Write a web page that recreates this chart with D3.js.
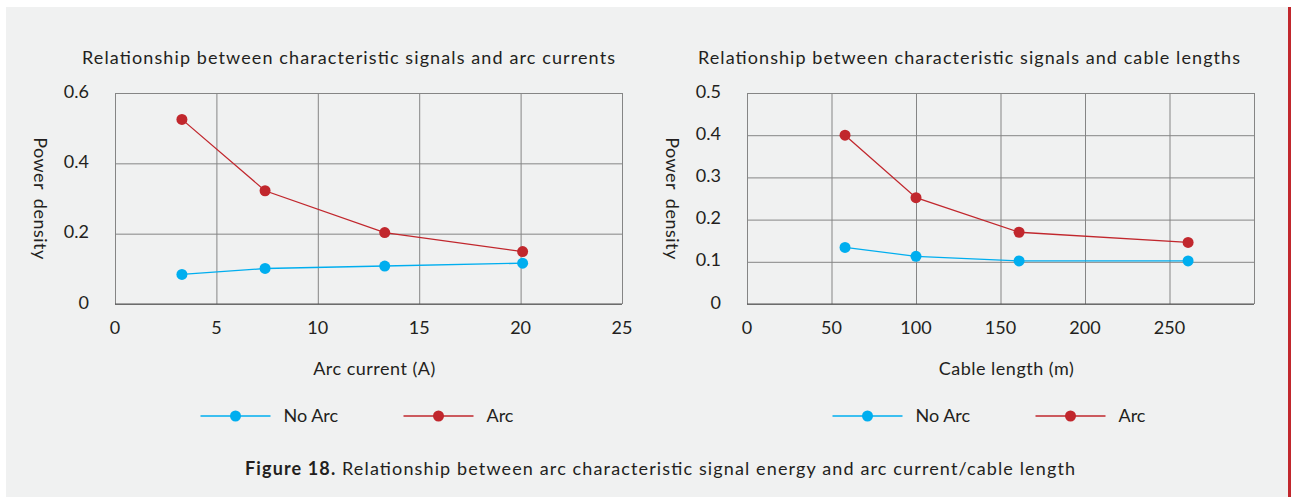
<!DOCTYPE html>
<html lang="en">
<head>
    <meta charset="UTF-8">
    <script src="https://d3js.org/d3.v7.min.js"></script>
    <title>Figure 18</title>
    <style>
    body { margin: 0; background: #fff; }
    text { font-family: Lato, "Open Sans", sans-serif; fill: #231f20; }
    .grid line { stroke: #858585; stroke-width: 1; }
    </style>
</head>
<body>
    <svg id="fig" width="1291" height="497"></svg>
    <script>
        // Data
        const seriesNames = ['No Arc', 'Arc'];
        const seriesColors = ['#00aeef', '#c1272d'];

        const currentX = [3.3, 7.4, 13.3, 20.1];
        const currentNoArc = [0.084, 0.101, 0.108, 0.116];
        const currentArc = [0.525, 0.322, 0.203, 0.149];
        const currentXTicks = [0, 5, 10, 15, 20, 25];
        const currentYTicks = [0, 0.2, 0.4, 0.6];

        const cableX = [58, 100, 161, 261];
        const cableNoArc = [0.134, 0.113, 0.102, 0.102];
        const cableArc = [0.400, 0.252, 0.170, 0.146];
        const cableXTicks = [0, 50, 100, 150, 200, 250];
        const cableXGrid = [0, 50, 100, 150, 200, 250, 300];
        const cableYTicks = [0, 0.1, 0.2, 0.3, 0.4, 0.5];

        const svg = d3.select('svg#fig');

        // page background and red edge
        svg.append('rect').attr('x', 6).attr('y', 7).attr('width', 1285).attr('height', 490).attr('fill', '#f0f1f1');
        svg.append('rect').attr('x', 1288).attr('y', 7).attr('width', 3).attr('height', 490).attr('fill', '#c1272d');

        function drawPanel(cfg) {
            const x = d3.scaleLinear().domain(cfg.xDomain).range([cfg.left, cfg.right]);
            const y = d3.scaleLinear().domain(cfg.yDomain).range([cfg.bottom, cfg.top]);
            const g = svg.append('g');
            const cx = (cfg.left + cfg.right) / 2;

            // title
            g.append('text')
                .attr('x', cfg.titleX).attr('y', 59)
                .attr('dominant-baseline', 'middle')
                .attr('textLength', cfg.titleLen).attr('lengthAdjust', 'spacing')
                .style('font-size', '18px')
                .text(cfg.title);

            // gridlines
            g.append('g').attr('class', 'grid')
                .attr('transform', `translate(0,${cfg.bottom})`)
                .call(d3.axisBottom(x).tickValues(cfg.xGrid).tickSize(-(cfg.bottom - cfg.top)).tickFormat(''))
                .call(s => s.select('.domain').remove());
            g.append('g').attr('class', 'grid')
                .attr('transform', `translate(${cfg.left},0)`)
                .call(d3.axisLeft(y).tickValues(cfg.yTicks).tickSize(-(cfg.right - cfg.left)).tickFormat(''))
                .call(s => s.select('.domain').remove());
            g.append('line')
                .attr('x1', cfg.left).attr('x2', cfg.right)
                .attr('y1', y(cfg.yDomain[0])).attr('y2', y(cfg.yDomain[0]))
                .attr('stroke', '#555').attr('stroke-width', 1.2);

            // tick labels
            g.selectAll('.xl').data(cfg.xTicks).enter().append('text')
                .attr('x', d => x(d)).attr('y', cfg.bottom + 25)
                .attr('text-anchor', 'middle').attr('dominant-baseline', 'middle')
                .style('font-size', '18px')
                .text(d => d);
            g.selectAll('.yl').data(cfg.yTicks).enter().append('text')
                .attr('x', cfg.left - 26).attr('y', d => y(d))
                .attr('text-anchor', 'end').attr('dominant-baseline', 'middle')
                .style('font-size', '18px')
                .text(d => d);

            // axis titles
            g.append('text')
                .attr('x', cx + 6).attr('y', cfg.bottom + 66)
                .attr('text-anchor', 'middle').attr('dominant-baseline', 'middle')
                .style('font-size', '18px')
                .style('letter-spacing', '0.5px')
                .text(cfg.xLabel);
            g.append('text')
                .attr('transform', `translate(${cfg.left - 76},${(cfg.top + cfg.bottom) / 2}) rotate(90)`)
                .attr('text-anchor', 'middle').attr('dominant-baseline', 'middle')
                .style('font-size', '18px')
                .style('letter-spacing', '0.5px')
                .style('word-spacing', '4px')
                .text('Power density');

            // series
            const line = d3.line().x(d => x(d[0])).y(d => y(d[1]));
            cfg.series.forEach((vals, i) => {
                const pts = cfg.xs.map((v, j) => [v, vals[j]]);
                g.append('path').datum(pts)
                    .attr('d', line)
                    .attr('fill', 'none')
                    .attr('stroke', seriesColors[i])
                    .attr('stroke-width', 1.3);
                g.selectAll(null).data(pts).enter().append('circle')
                    .attr('cx', d => x(d[0])).attr('cy', d => y(d[1]))
                    .attr('r', 5.5)
                    .attr('fill', seriesColors[i]);
            });

            // legend
            const ly = cfg.bottom + 112;
            seriesNames.forEach((name, i) => {
                const lx = cx - 168 + i * 203;
                const lg = g.append('g').attr('transform', `translate(${lx},${ly})`);
                lg.append('line').attr('x1', 0).attr('x2', 70).attr('y1', 0).attr('y2', 0)
                    .attr('stroke', seriesColors[i]).attr('stroke-width', 1.3);
                lg.append('circle').attr('cx', 35).attr('cy', 0).attr('r', 5.5).attr('fill', seriesColors[i]);
                lg.append('text').attr('x', 83).attr('y', 1)
                    .attr('dominant-baseline', 'middle')
                    .style('font-size', '18px')
                    .text(name);
            });
        }

        drawPanel({
            title: 'Relationship between characteristic signals and arc currents',
            titleX: 82, titleLen: 533,
            xLabel: 'Arc current (A)',
            left: 115, right: 622, top: 93, bottom: 304,
            xDomain: [0, 25], yDomain: [0, 0.6],
            xTicks: currentXTicks, xGrid: currentXTicks, yTicks: currentYTicks,
            xs: currentX, series: [currentNoArc, currentArc]
        });

        drawPanel({
            title: 'Relationship between characteristic signals and cable lengths',
            titleX: 698, titleLen: 542,
            xLabel: 'Cable length  (m)',
            left: 747, right: 1254, top: 93, bottom: 304,
            xDomain: [0, 300], yDomain: [0, 0.5],
            xTicks: cableXTicks, xGrid: cableXGrid, yTicks: cableYTicks,
            xs: cableX, series: [cableNoArc, cableArc]
        });

        // caption
        const cap = svg.append('text')
            .attr('x', 245).attr('y', 470)
            .attr('dominant-baseline', 'middle')
            .attr('textLength', 830).attr('lengthAdjust', 'spacing')
            .style('font-size', '18px');
        cap.append('tspan').style('font-weight', 'bold').text('Figure 18.');
        cap.append('tspan').text(' Relationship between arc characteristic signal energy and arc current/cable length');
    </script>
</body>
</html>
